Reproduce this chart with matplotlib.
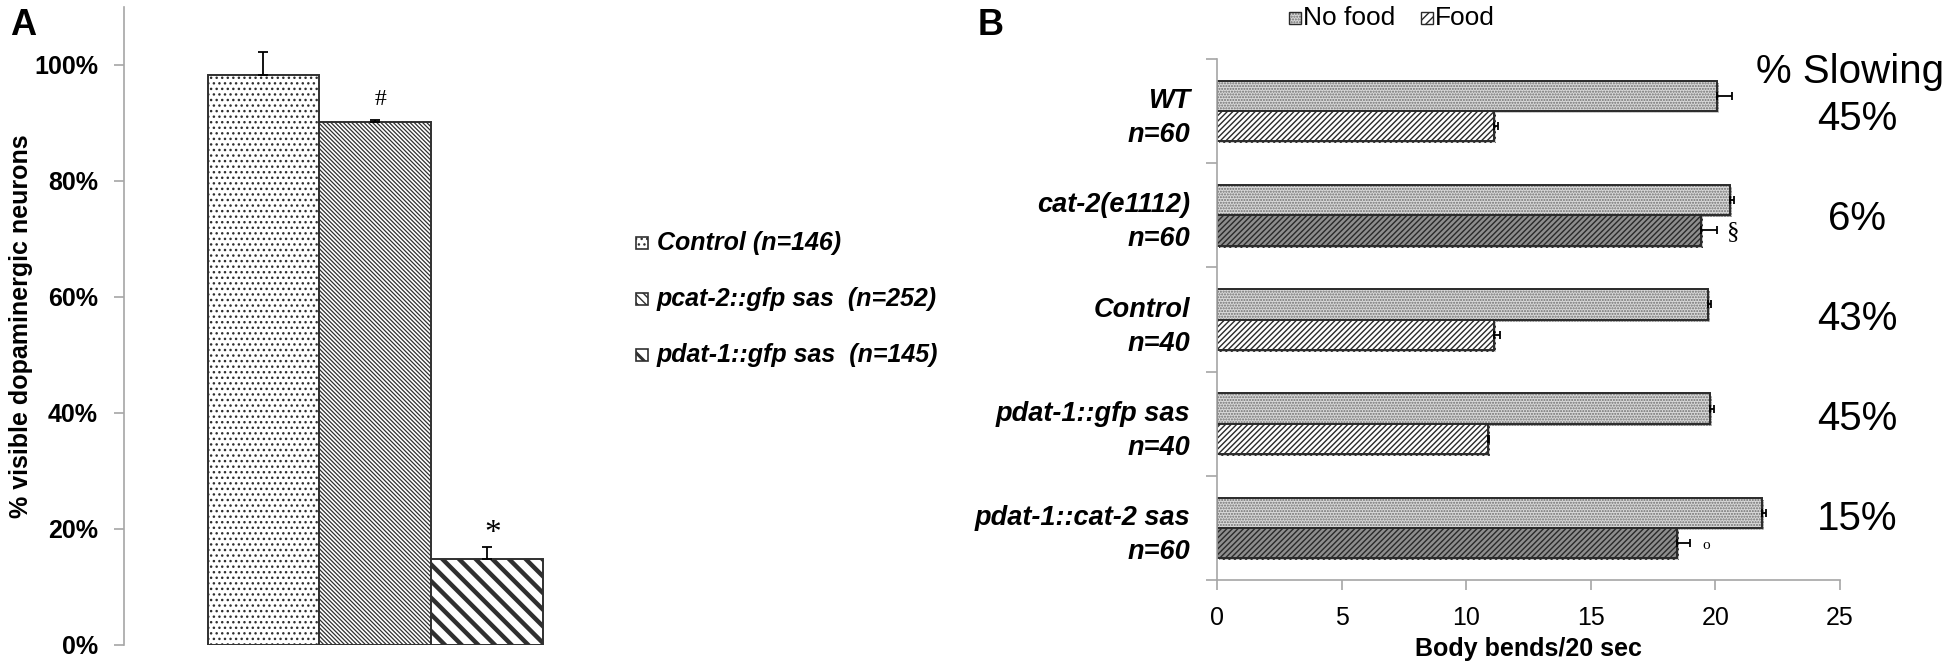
import numpy as np
import matplotlib
matplotlib.use("Agg")
import matplotlib.pyplot as plt
from matplotlib.patches import Rectangle
import matplotlib.patheffects as pe

# ---------------- data ----------------
a_labels = ["Control (n=146)", "pcat-2::gfp sas  (n=252)", "pdat-1::gfp sas  (n=145)"]
a_values = [98.2, 90.1, 14.9]
a_err = [4.0, 0.4, 2.0]
a_marks = ["", "#", "*"]
a_yticks = [0, 20, 40, 60, 80, 100]
a_yticklabels = ["0%", "20%", "40%", "60%", "80%", "100%"]

b_categories = ["WT\nn=60", "cat-2(e1112)\nn=60", "Control\nn=40",
                "pdat-1::gfp sas\nn=40", "pdat-1::cat-2 sas\nn=60"]
b_nofood = [20.07, 20.6, 19.7, 19.8, 21.87]
b_nofood_err = [0.6, 0.13, 0.13, 0.16, 0.18]
b_food = [11.12, 19.42, 11.12, 10.87, 18.46]
b_food_err = [0.15, 0.64, 0.25, 0.06, 0.54]
b_food_marks = ["", "\u00a7", "", "", "o"]
b_slowing = ["45%", "6%", "43%", "45%", "15%"]
b_xticks = [0, 5, 10, 15, 20, 25]

# ---------------- style ----------------
SANS = ["Liberation Sans", "DejaVu Sans"]
SERIF = ["Liberation Serif", "DejaVu Serif"]
plt.rcParams["font.family"] = SANS
GRAY = "#a6a6a6"

W, H = 1950, 671
fig = plt.figure(figsize=(W / 100, H / 100), dpi=100)


def fx(px):
    return px / W


def fy(py):
    return 1 - py / H


# ================= Panel A =================
ax_a = fig.add_axes([fx(124.3), fy(645), (626 - 124.3) / W, (645 - 7) / H])
xa = np.arange(len(a_values))
a_hatches = ["...", "\\" * 8, "\\\\"]
a_hlw = [1.0, 0.9, 3.2]
for i in range(len(a_values)):
    with plt.rc_context({"hatch.linewidth": a_hlw[i]}):
        b = ax_a.bar(xa[i], a_values[i], width=1.0, color="white",
                     edgecolor="#303030", linewidth=1.4, hatch=a_hatches[i])[0]
    if hasattr(b, "set_hatch_linewidth"):
        b.set_hatch_linewidth(a_hlw[i])
ax_a.errorbar(xa, a_values, yerr=[np.zeros(len(a_err)), a_err], fmt="none",
              ecolor="black", elinewidth=1.3, capsize=3.3, capthick=1.3)
for i, m in enumerate(a_marks):
    if m:
        ax_a.text(xa[i] + 0.05, a_values[i] + a_err[i] + (3.5 if m == "#" else 2.3), m,
                  ha="center", va="center", fontsize=17 if m == "#" else 24,
                  family=SERIF)
ax_a.set_xlim(-0.5 - 0.745, len(a_values) - 0.5 + 0.745)
ax_a.set_ylim(0, 110)
ax_a.set_yticks(a_yticks)
ax_a.set_yticklabels(a_yticklabels, fontsize=18, fontweight="bold")
ax_a.set_xticks([])
for s in ["top", "right", "bottom"]:
    ax_a.spines[s].set_visible(False)
ax_a.spines["left"].set_color(GRAY)
ax_a.spines["left"].set_linewidth(1.2)
ax_a.tick_params(axis="y", direction="out", length=7, width=1.2, color=GRAY, pad=12)
ax_a.patch.set_alpha(0)

fig.text(fx(21), fy(326), "% visible dopaminergic neurons", rotation=90,
         ha="center", va="center", fontsize=18, fontweight="bold")
fig.text(fx(10), fy(8), "A", ha="left", va="top", fontsize=26, fontweight="bold")

# legend A (manual)
rows_a = [243, 299, 355]
leg_a_hatch = ["...", "\\\\\\\\", "\\\\"]
leg_a_hlw = [1.0, 1.0, 2.2]
for i, lab in enumerate(a_labels):
    with plt.rc_context({"hatch.linewidth": leg_a_hlw[i]}):
        r = Rectangle((fx(636), fy(rows_a[i] + 6)), 12 / W, 12 / H,
                      transform=fig.transFigure, facecolor="white",
                      edgecolor="#303030", linewidth=1.2, hatch=leg_a_hatch[i])
    if hasattr(r, "set_hatch_linewidth"):
        r.set_hatch_linewidth(leg_a_hlw[i])
    fig.add_artist(r)
    fig.text(fx(657), fy(rows_a[i]), lab, ha="left", va="center",
             fontsize=18, fontweight="bold", style="italic")

# ================= Panel B =================
ax_b = fig.add_axes([fx(1217), fy(580), (1840 - 1217) / W, (580 - 59) / H])
yb = np.arange(len(b_categories))
bh = 0.29
NOFOOD_FC = "#d9d9d9"
NOFOOD_HATCH = "#6e6e6e"
EDGE = "#2a2a2a"
food_face = ["white", "#8e8e8e", "white", "white", "#8e8e8e"]
shadow = [pe.SimplePatchShadow(offset=(1.5, -1.5), alpha=0.25), pe.Normal()]

# no-food: stipple layer (grey hatch colour) + dark outline layer
nf = ax_b.barh(yb - bh / 2, b_nofood, height=bh, color=NOFOOD_FC,
               edgecolor=NOFOOD_HATCH, linewidth=0, hatch="......")
for p in nf:
    p.set_path_effects(shadow)
ax_b.barh(yb - bh / 2, b_nofood, height=bh, fill=False, edgecolor=EDGE, linewidth=1.4)

for i in range(len(b_food)):
    fb = ax_b.barh(yb[i] + bh / 2, b_food[i], height=bh, color=food_face[i],
                   edgecolor=EDGE, linewidth=1.4, hatch="//////")[0]
    fb.set_path_effects(shadow)
ax_b.errorbar(b_nofood, yb - bh / 2, xerr=[np.zeros(5), b_nofood_err], fmt="none",
              ecolor="black", elinewidth=1.3, capsize=2.6, capthick=1.3)
ax_b.errorbar(b_food, yb + bh / 2, xerr=[np.zeros(5), b_food_err], fmt="none",
              ecolor="black", elinewidth=1.3, capsize=2.6, capthick=1.3)
for i, m in enumerate(b_food_marks):
    if m:
        ax_b.text(b_food[i] + b_food_err[i] + 0.65, yb[i] + bh / 2 + 0.02, m,
                  ha="center", va="center", fontsize=18 if m != "o" else 11,
                  family=SERIF)

ax_b.set_xlim(0, 25)
ax_b.set_ylim(len(b_categories) - 0.5, -0.5)
ax_b.set_xticks(b_xticks)
ax_b.set_xticklabels([str(v) for v in b_xticks], fontsize=18)
ax_b.set_yticks(np.arange(-0.5, len(b_categories), 1.0))
ax_b.set_yticklabels([])
ax_b.set_yticks(yb, minor=True)
ax_b.set_yticklabels(b_categories, minor=True, fontsize=19.5, fontweight="bold",
                     style="italic", linespacing=1.4)
ax_b.tick_params(axis="y", which="major", direction="out", length=8, width=1.2, color=GRAY)
ax_b.tick_params(axis="y", which="minor", length=0, pad=19.5)
ax_b.tick_params(axis="x", direction="out", length=7, width=1.2, color=GRAY, pad=12)
for s in ["top", "right"]:
    ax_b.spines[s].set_visible(False)
for s in ["left", "bottom"]:
    ax_b.spines[s].set_color(GRAY)
    ax_b.spines[s].set_linewidth(1.2)
ax_b.patch.set_alpha(0)

fig.text(fx(1528), fy(649), "Body bends/20 sec", ha="center", va="center",
         fontsize=18, fontweight="bold")
fig.text(fx(978), fy(8), "B", ha="left", va="top", fontsize=26, fontweight="bold")

# legend B (manual)
r1 = Rectangle((fx(1289), fy(24)), 12 / W, 12 / H, transform=fig.transFigure,
               facecolor=NOFOOD_FC, edgecolor=NOFOOD_HATCH, linewidth=0, hatch="......")
fig.add_artist(r1)
fig.add_artist(Rectangle((fx(1289), fy(24)), 12 / W, 12 / H, transform=fig.transFigure,
                         fill=False, edgecolor=EDGE, linewidth=1.0))
fig.text(fx(1303), fy(18), "No food", ha="left", va="center", fontsize=19)
fig.add_artist(Rectangle((fx(1421), fy(24)), 12 / W, 12 / H, transform=fig.transFigure,
                         facecolor="white", edgecolor=EDGE, linewidth=1.0, hatch="////"))
fig.text(fx(1435), fy(18), "Food", ha="left", va="center", fontsize=19)

# % slowing column
fig.text(fx(1850), fy(83), "% Slowing", ha="center", va="baseline", fontsize=29)
for i, s in enumerate(b_slowing):
    fig.text(fx(1857), fy(119 + 100 * i), s, ha="center", va="center", fontsize=29)

fig.savefig("out.png", dpi=100)
